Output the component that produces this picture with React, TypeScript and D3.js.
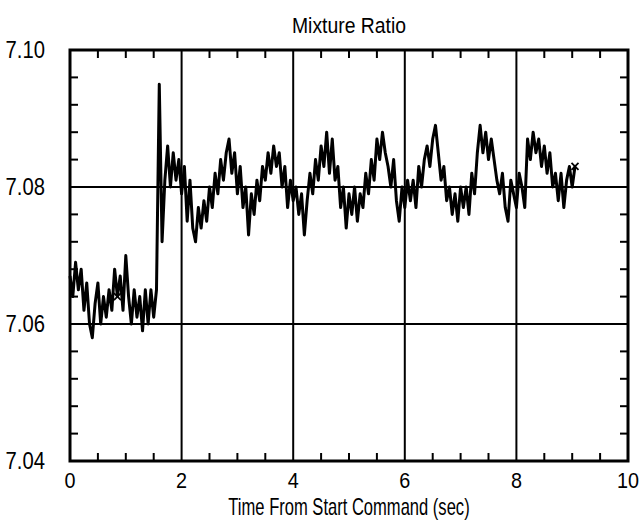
import React from 'react';
import { scaleLinear, line, range } from 'd3';

// sampled every 0.05 s from t = 0
const sampleStep = 0.05;
const mixtureRatio = [
  7.067, 7.064, 7.069, 7.065, 7.068, 7.062, 7.066, 7.060, 7.058, 7.063,
  7.066, 7.060, 7.064, 7.061, 7.065, 7.062, 7.068, 7.064, 7.067, 7.062,
  7.070, 7.064, 7.060, 7.065, 7.061, 7.064, 7.059, 7.065, 7.060, 7.065,
  7.061, 7.065, 7.095, 7.072, 7.081, 7.086, 7.080, 7.085, 7.081, 7.084,
  7.079, 7.083, 7.075, 7.081, 7.074, 7.072, 7.077, 7.074, 7.078, 7.075,
  7.080, 7.077, 7.082, 7.079, 7.084, 7.081, 7.085, 7.087, 7.082, 7.085,
  7.079, 7.083, 7.077, 7.080, 7.073, 7.079, 7.076, 7.081, 7.078, 7.083,
  7.081, 7.085, 7.082, 7.086, 7.083, 7.085, 7.080, 7.083, 7.077, 7.081,
  7.078, 7.080, 7.076, 7.079, 7.073, 7.078, 7.082, 7.079, 7.084, 7.081,
  7.086, 7.083, 7.088, 7.082, 7.087, 7.081, 7.083, 7.077, 7.080, 7.074,
  7.079, 7.076, 7.080, 7.075, 7.079, 7.077, 7.082, 7.079, 7.084, 7.081,
  7.087, 7.084, 7.088, 7.085, 7.083, 7.080, 7.084, 7.078, 7.075, 7.080,
  7.077, 7.081, 7.078, 7.081, 7.077, 7.083, 7.080, 7.084, 7.086, 7.083,
  7.087, 7.089, 7.085, 7.081, 7.083, 7.078, 7.080, 7.076, 7.079, 7.075,
  7.080, 7.077, 7.080, 7.076, 7.082, 7.079, 7.085, 7.089, 7.085, 7.088,
  7.084, 7.087, 7.084, 7.081, 7.079, 7.082, 7.077, 7.075, 7.081, 7.079,
  7.077, 7.082, 7.080, 7.077, 7.087, 7.084, 7.088, 7.085, 7.087, 7.083,
  7.086, 7.082, 7.085, 7.080, 7.082, 7.078, 7.082, 7.077, 7.081, 7.083,
  7.080, 7.083,
];
// sample indices that carry an "x" marker
const markedSamples = [17, 181];

const xTicks = [0, 2, 4, 6, 8, 10];
const xGrid = [2, 4, 6, 8];
const yTicks = [7.04, 7.06, 7.08, 7.1];
const yGrid = [7.06, 7.08];

const width = 639;
const height = 524;
const margin = { top: 50, right: 11, bottom: 63, left: 70 };
const font = '"Liberation Sans", Arial, sans-serif';

// condensed text, the original uses a narrow face
function Label(props: { x: number; y: number; size: number; squeeze: number; anchor: string; children: React.ReactNode }) {
  return (
    <text
      transform={`translate(${props.x},${props.y}) scale(${props.squeeze},1)`}
      textAnchor={props.anchor}
      fontFamily={font}
      fontSize={props.size}
    >
      {props.children}
    </text>
  );
}

export default function App() {
  const x = scaleLinear().domain([0, 10]).range([margin.left, width - margin.right]);
  const y = scaleLinear().domain([7.04, 7.1]).range([height - margin.bottom, margin.top]);

  const pts = mixtureRatio.map((v, i) => [i * sampleStep, v] as [number, number]);
  const path = line<[number, number]>()
    .x(d => x(d[0]))
    .y(d => y(d[1]))(pts);

  const xMinor = range(0.5, 10, 0.5).filter(v => !xGrid.includes(v));
  const yMinor = range(7.044, 7.1, 0.004).filter(
    v => !yGrid.some(g => Math.abs(g - v) < 1e-6)
  );
  const tick = 8;
  const cx = (x(0) + x(10)) / 2;

  return (
    <svg
      width={width}
      height={height}
      style={{ position: 'absolute', left: 0, top: 0, background: '#fff' }}
    >
      <Label x={cx} y={33} size={22} squeeze={0.88} anchor="middle">
        Mixture Ratio
      </Label>

      {/* grid */}
      {xGrid.map(v => (
        <line key={'gx' + v} x1={x(v)} x2={x(v)} y1={y(7.1)} y2={y(7.04)} stroke="#000" strokeWidth={2} />
      ))}
      {yGrid.map(v => (
        <line key={'gy' + v} x1={x(0)} x2={x(10)} y1={y(v)} y2={y(v)} stroke="#000" strokeWidth={2} />
      ))}

      {/* minor ticks */}
      {xMinor.map(v => (
        <g key={'mx' + v} stroke="#000" strokeWidth={2}>
          <line x1={x(v)} x2={x(v)} y1={y(7.04)} y2={y(7.04) - tick} />
          <line x1={x(v)} x2={x(v)} y1={y(7.1)} y2={y(7.1) + tick} />
        </g>
      ))}
      {yMinor.map(v => (
        <g key={'my' + v} stroke="#000" strokeWidth={2}>
          <line x1={x(0)} x2={x(0) + tick} y1={y(v)} y2={y(v)} />
          <line x1={x(10)} x2={x(10) - tick} y1={y(v)} y2={y(v)} />
        </g>
      ))}

      {/* data */}
      <path d={path ?? ''} fill="none" stroke="#000" strokeWidth={3} strokeLinejoin="round" />
      {markedSamples.map(i => {
        const mx = x(i * sampleStep);
        const my = y(mixtureRatio[i]);
        return (
          <g key={'m' + i} stroke="#000" strokeWidth={1.8}>
            <line x1={mx - 3.5} x2={mx + 3.5} y1={my - 3.5} y2={my + 3.5} />
            <line x1={mx - 3.5} x2={mx + 3.5} y1={my + 3.5} y2={my - 3.5} />
          </g>
        );
      })}

      {/* frame */}
      <rect
        x={x(0)}
        y={y(7.1)}
        width={x(10) - x(0)}
        height={y(7.04) - y(7.1)}
        fill="none"
        stroke="#000"
        strokeWidth={3}
      />

      {xTicks.map(v => (
        <Label key={'tx' + v} x={x(v)} y={y(7.04) + 27} size={22} squeeze={0.9} anchor="middle">
          {v}
        </Label>
      ))}
      {yTicks.map(v => (
        <Label key={'ty' + v} x={45} y={y(v) + 8} size={23} squeeze={0.88} anchor="end">
          {v.toFixed(2)}
        </Label>
      ))}
      <Label x={cx} y={515} size={23} squeeze={0.72} anchor="middle">
        Time From Start Command (sec)
      </Label>
    </svg>
  );
}
